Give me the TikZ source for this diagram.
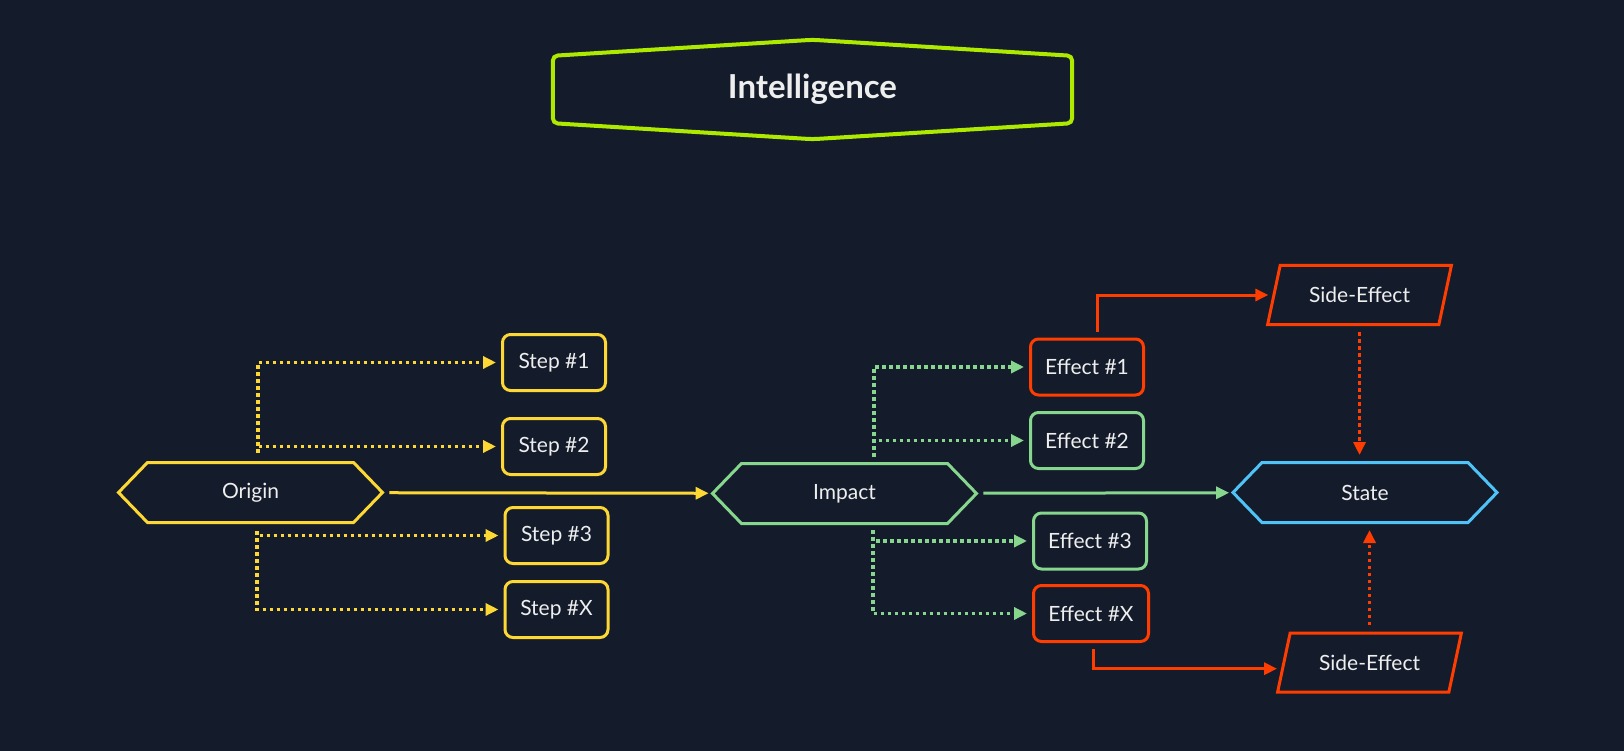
\documentclass[tikz,border=0pt]{standalone}
\usepackage{fontspec}
\setmainfont{Lato}
\usetikzlibrary{arrows.meta, positioning, calc, shapes.geometric, shapes.symbols}
\definecolor{mybg}{HTML}{141C2B}
\definecolor{myyellow}{HTML}{FDD835}
\definecolor{mygreen}{HTML}{87D68D}
\definecolor{myred}{HTML}{FF3D00}
\definecolor{myblue}{HTML}{4FC3F7}
\definecolor{mylime}{HTML}{AEEA00}
\definecolor{mytext}{HTML}{EEEEEE}

\tikzset{
  labeltext/.style={text=mytext, font=\fontsize{21}{24}\selectfont, inner sep=0pt},
  hexnode/.style={labeltext, shape=signal, signal to=east and west, signal pointer angle=92,
    draw=#1, line width=3pt, minimum width=264pt, minimum height=60pt},
  stepbox/.style={labeltext, draw=#1, rounded corners=8pt, line width=3pt,
    minimum width=103pt, minimum height=56pt},
  sidebox/.style={labeltext, trapezium, trapezium left angle=63, trapezium right angle=117,
    trapezium stretches=true, draw=myred, line width=3pt, minimum width=184pt, minimum height=59pt},
  dotline/.style={draw=#1, line width=3.8pt, dash pattern=on 3.6pt off 3.4pt,
    -{Triangle[length=13pt, width=12pt]}},
  solidline/.style={draw=#1, line width=3pt, -{Triangle[length=13pt, width=12pt]}}
}

\begin{document}
\begin{tikzpicture}[x=1pt, y=-1pt]
        \fill[mybg] (0,0) rectangle (1624,751);
        \node[minimum width=519pt, minimum height=67pt, text=mytext,
              font=\fontsize{33}{38}\selectfont\bfseries] (intel) at (812.5,89.5) {Intelligence};
        \draw[draw=mylime, line width=4pt, rounded corners=5pt] (intel.west) -- (intel.north west)
              -- ($(intel.north)+(0,-16)$) -- (intel.north east) -- (intel.south east)
              -- ($(intel.south)+(0,16)$) -- (intel.south west) -- cycle;
        \node[hexnode=myyellow] (origin) at (250.5,492.5) {Origin};
        \node[hexnode=mygreen] (impact) at (844.5,493.5) {Impact};
        \node[hexnode=myblue] (state) at (1365,492.5) {State};
        \node[stepbox=myyellow] (step1) at (554,362.5) {Step \#1};
        \node[stepbox=myyellow] (step2) at (554,446.5) {Step \#2};
        \node[stepbox=myyellow] (step3) at (556.5,535.5) {Step \#3};
        \node[stepbox=myyellow] (stepX) at (556.5,609.5) {Step \#X};
        \node[stepbox=myred, minimum width=113pt] (eff1) at (1087,367) {Effect \#1};
        \node[stepbox=mygreen, minimum width=113pt] (eff2) at (1087,440.5) {Effect \#2};
        \node[stepbox=mygreen, minimum width=113pt] (eff3) at (1090,541) {Effect \#3};
        \node[stepbox=myred, minimum width=115pt] (effX) at (1091,613.5) {Effect \#X};
        \node[sidebox] (side1) at (1359.5,295) {Side-Effect};
        \node[sidebox] (side2) at (1369.5,662.5) {Side-Effect};
        \coordinate (otop) at ($(origin.north)+(7.5,-8)$);
        \coordinate (obot) at ($(origin.south)+(6.5,7)$);
        \draw[dotline=myyellow, shorten >=5pt] (otop) |- (step1);
        \draw[dotline=myyellow, shorten >=5pt] (otop) |- (step2);
        \draw[dotline=myyellow, shorten >=5pt] (obot) |- (step3);
        \draw[dotline=myyellow, shorten >=5pt] (obot) |- (stepX);
        \draw[solidline=myyellow, shorten <=5pt, shorten >=2pt] (origin) -- (impact);
        \coordinate (itop) at ($(impact.north)+(29.5,-5)$);
        \coordinate (ibot) at ($(impact.south)+(28.5,5)$);
        \draw[dotline=mygreen, shorten >=5pt] (itop) |- (eff1);
        \draw[dotline=mygreen, shorten >=5pt] (itop) |- (eff2);
        \draw[dotline=mygreen, shorten >=5pt] (ibot) |- (eff3);
        \draw[dotline=mygreen, shorten >=5pt] (ibot) |- (effX);
        \draw[solidline=mygreen, shorten <=5pt, shorten >=2pt] (impact) -- (state);
        \draw[solidline=myred, shorten >=4pt] ($(eff1.north)+(10,-6)$) |- (side1.west);
        \draw[solidline=myred, shorten >=4pt] ($(effX.south)+(2,6)$) |- (side2.184);
        \draw[dotline=myred, shorten <=6pt, shorten >=6pt] (side1.south) -- (side1.south |- state.north);
        \draw[dotline=myred, shorten <=6pt, shorten >=6pt] (side2.north) -- (side2.north |- state.south);
    \end{tikzpicture}
\end{document}
